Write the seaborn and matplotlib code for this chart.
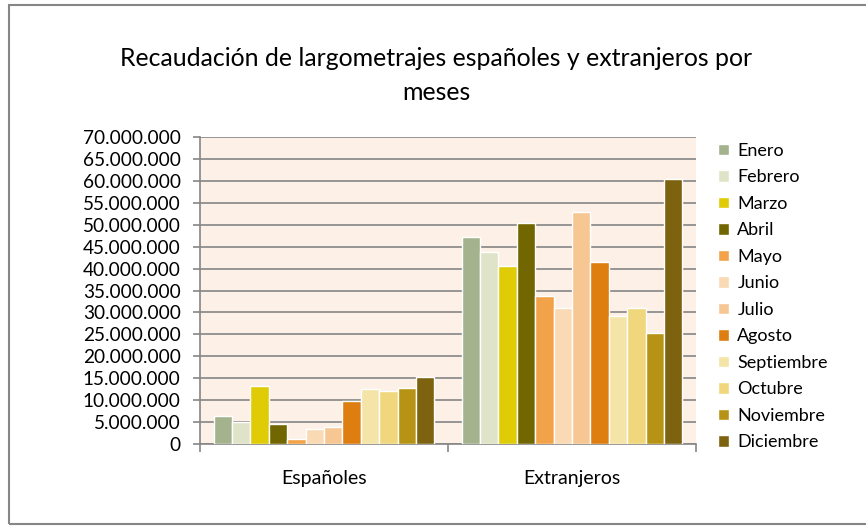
import matplotlib
matplotlib.use("Agg")
import matplotlib.pyplot as plt
import matplotlib.patches as mpatches
from matplotlib.ticker import FuncFormatter, MultipleLocator
import seaborn as sns
import pandas as pd

categorias = ["Españoles", "Extranjeros"]
meses = ["Enero", "Febrero", "Marzo", "Abril", "Mayo", "Junio", "Julio",
         "Agosto", "Septiembre", "Octubre", "Noviembre", "Diciembre"]
espanoles = [6330000, 5100000, 13260000, 4650000, 1070000, 3430000, 3810000,
             9900000, 12580000, 12040000, 12800000, 15170000]
extranjeros = [47180000, 43750000, 40550000, 50460000, 33770000, 30950000,
               52820000, 41460000, 29270000, 30950000, 25380000, 60370000]
colores = ["#A4B38E", "#DFE4C9", "#DFCC07", "#726600", "#F2A248", "#FAD9B5",
           "#F7C793", "#DE7D10", "#F4E4A7", "#F0D67C", "#B79315", "#7D6210"]

rows = []
for m, e, x in zip(meses, espanoles, extranjeros):
    rows.append({"cat": categorias[0], "mes": m, "valor": e})
    rows.append({"cat": categorias[1], "mes": m, "valor": x})
df = pd.DataFrame(rows)

sns.set_theme(style="white")
plt.rcParams["font.family"] = ["Lato", "DejaVu Sans"]
plt.rcParams["text.color"] = "black"

fig = plt.figure(figsize=(8.66, 5.27), dpi=100)
fig.patch.set_facecolor("white")
ax = fig.add_axes([200/866, 1-444/527, (696-200)/866, (444-137)/527])

sns.barplot(data=df, x="cat", y="valor", hue="mes", hue_order=meses,
            order=categorias, palette=colores, saturation=1, width=0.89,
            ax=ax, legend=True, zorder=3)

ax.set_facecolor("#FDF1E7")
ax.set_ylim(0, 70000000)
ax.set_xlim(-0.5, 1.5)
ax.yaxis.set_major_locator(MultipleLocator(5000000))
ax.yaxis.set_major_formatter(FuncFormatter(lambda v, p: f"{int(v):,}".replace(",", ".")))
ax.grid(axis="y", color="#868686", linewidth=1.2, zorder=0)
ax.set_axisbelow(True)
for s in ["top", "right"]:
    ax.spines[s].set_visible(False)
for s in ["left", "bottom"]:
    ax.spines[s].set_color("#868686")
    ax.spines[s].set_linewidth(1.2)
ax.tick_params(axis="y", which="major", left=True, length=5, width=1.2,
               color="#868686", labelsize=13.7, pad=9, labelcolor="black")
ax.set_xticks([0, 1])
ax.tick_params(axis="x", which="major", bottom=False, pad=13, labelcolor="black")
ax.set_xticklabels(categorias, fontsize=14, color="black")
ax.set_xticks([-0.5, 0.5, 1.5], minor=True)
ax.tick_params(axis="x", which="minor", bottom=True, length=6, width=1.2,
               color="#868686")
ax.set_xlabel("")
ax.set_ylabel("")

handles, labels = ax.get_legend_handles_labels()
ax.legend(handles, labels, loc="upper left", bbox_to_anchor=(718/866, 1-143/527),
          bbox_transform=fig.transFigure, frameon=False, fontsize=13,
          handlelength=0.62, handleheight=0.62, handletextpad=0.45,
          labelspacing=0.58, borderaxespad=0, borderpad=0, labelcolor="black")

fig.text(436/866, 1-59/527, "Recaudación de largometrajes españoles y extranjeros por",
         ha="center", va="center", fontsize=17.9, color="black")
fig.text(436/866, 1-92/527, "meses", ha="center", va="center", fontsize=17.9,
         color="black")

border = mpatches.Rectangle((9/866, 3/527), 1.0, 519/527, transform=fig.transFigure,
                            fill=False, edgecolor="#868686", linewidth=1.5)
fig.patches.append(border)

fig.savefig("out.png", dpi=100)
